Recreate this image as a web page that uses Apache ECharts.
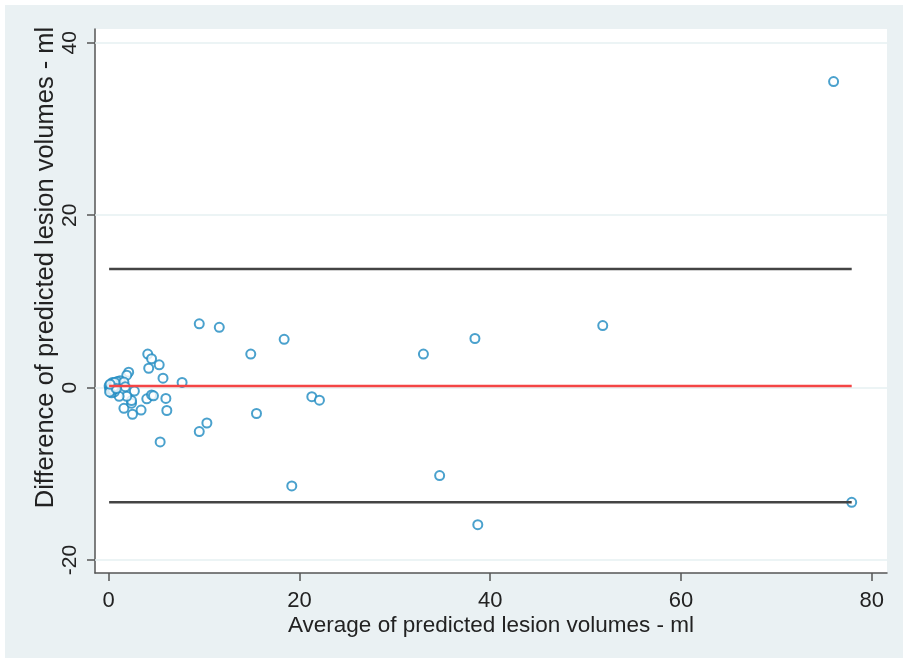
<!DOCTYPE html>
<html><head><meta charset="utf-8">
<script src="https://cdn.jsdelivr.net/npm/echarts@6/dist/echarts.min.js"></script>
<style>
html,body{margin:0;padding:0;background:#ffffff;}
#c{position:absolute;left:5px;top:5px;width:898px;height:653px;background:#eaf1f3;}
</style></head>
<body><div id="c"></div>
<script>
// Bland-Altman data: average (x) and difference (y), ml
const avgVol = [76.0, 77.9, 51.8, 38.4, 33.0, 34.7, 38.7, 19.2, 18.4, 14.9, 15.5, 21.3, 22.1,
  9.5, 11.6, 7.7, 10.3, 9.5, 5.4, 4.1, 4.5, 5.3, 4.2, 5.7, 4.0, 4.5, 4.7, 6.0, 6.1, 3.4,
  2.5, 1.6, 2.4, 2.4, 2.7, 1.9, 1.1, 2.1, 1.9, 1.2, 0.9, 1.6, 1.75,
  0.1, 0.2, 0.3, 0.4, 0.5, 0.6, 0.2, 0.7, 0.4, 0.3,
  0.05, 0.15, 0.25, 0.35, 0.45, 0.55, 0.1, 0.65, 0.8, 0.15];
const diffVol = [35.5, -13.3, 7.2, 5.7, 3.9, -10.2, -15.9, -11.4, 5.6, 3.9, -3.0, -1.05, -1.45,
  7.4, 7.0, 0.6, -4.1, -5.1, -6.3, 3.9, 3.35, 2.65, 2.25, 1.1, -1.3, -0.85, -0.95, -1.25, -2.65, -2.6,
  -3.1, -2.4, -1.8, -1.5, -0.4, -1.0, -1.0, 1.8, 1.45, 0.8, 0.7, 0.65, 0.1,
  0.0, -0.4, 0.3, -0.2, 0.4, -0.5, 0.1, 0.2, 0.6, -0.6,
  0.2, -0.2, 0.0, 0.1, -0.3, 0.1, -0.5, 0.6, -0.1, 0.4];
const meanDiff = 0.2;
const limitsOfAgreement = [13.75, -13.3];
const xTicks = [0, 20, 40, 60, 80];
const yTicks = [-20, 0, 20, 40];

const pts = avgVol.map((a, i) => [a, diffVol[i]]);
const xLo = Math.min(...avgVol), xHi = Math.max(...avgVol);
const font = '"Liberation Sans", Arial, sans-serif';

const chart = echarts.init(document.getElementById('c'));
chart.setOption({
  animation: false,
  grid: {left: 90, right: 16, top: 24, bottom: 85, show: true, backgroundColor: '#ffffff', borderWidth: 0},
  xAxis: {
    type: 'value', min: -1.43, max: 81.6,
    name: 'Average of predicted lesion volumes - ml', nameLocation: 'middle', nameGap: 41,
    nameMoveOverlap: false,
    nameTextStyle: {fontFamily: font, fontSize: 22.5, color: '#222'},
    axisLine: {show: true, onZero: false, lineStyle: {color: '#555', width: 1.5}},
    axisTick: {show: true, length: 8, customValues: xTicks, lineStyle: {color: '#555', width: 1.5}},
    axisLabel: {customValues: xTicks, margin: 17, fontFamily: font, fontSize: 22, color: '#222'},
    splitLine: {show: false}
  },
  yAxis: {
    type: 'value', min: -21.5, max: 41.6,
    name: 'Difference of predicted lesion volumes - ml', nameLocation: 'middle', nameGap: 36,
    nameMoveOverlap: false,
    nameTextStyle: {fontFamily: font, fontSize: 25.5, color: '#222', padding: [0, 0, 0, 67]},
    axisLine: {show: true, onZero: false, lineStyle: {color: '#555', width: 1.5}},
    axisTick: {show: true, length: 8, customValues: yTicks, lineStyle: {color: '#555', width: 1.5}},
    axisLabel: {customValues: yTicks, rotate: 90, margin: 14, fontFamily: font, fontSize: 21, color: '#222'},
    splitLine: {show: false}
  },
  series: [
    {
      type: 'scatter', data: pts, symbol: 'emptyCircle', symbolSize: 9, z: 2,
      itemStyle: {color: '#1d8ac0', borderColor: '#1d8ac0', borderWidth: 2.2},
      markLine: {
        silent: true, symbol: 'none', z: 1, label: {show: false},
        lineStyle: {color: '#e6f0f2', width: 1.5, type: 'solid'},
        data: yTicks.map(v => ({yAxis: v}))
      }
    },
    {
      type: 'line', data: [[xLo, meanDiff], [xHi, meanDiff]], symbol: 'none', z: 4,
      lineStyle: {color: '#f44545', width: 2.5}
    },
    {
      type: 'line', data: [[xLo, limitsOfAgreement[0]], [xHi, limitsOfAgreement[0]]], symbol: 'none', z: 4,
      lineStyle: {color: '#444', width: 2.5}
    },
    {
      type: 'line', data: [[xLo, limitsOfAgreement[1]], [xHi, limitsOfAgreement[1]]], symbol: 'none', z: 4,
      lineStyle: {color: '#444', width: 2.5}
    }
  ]
});
</script></body></html>
